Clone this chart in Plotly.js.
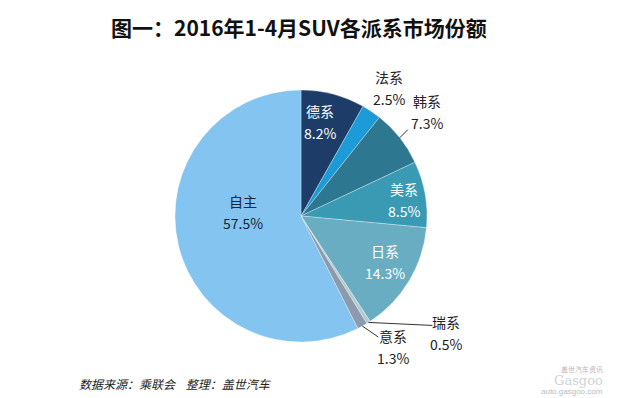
<!DOCTYPE html>
<html>
<head>
<meta charset="utf-8">
<script src="https://cdn.plot.ly/plotly-3.0.1.min.js"></script>
<style>html,body{margin:0;padding:0;background:#fff}#chart{width:620px;height:398px}</style>
</head>
<body>
<div id="chart"></div>
<script>
// ---- data ----
var categories = ["德系", "法系", "韩系", "美系", "日系", "瑞系", "意系", "自主"];
var shares = [8.2, 2.5, 7.3, 8.5, 14.3, 0.5, 1.3, 57.5];
var valueLabels = ["8.2%", "2.5%", "7.3%", "8.5%", "14.3%", "0.5%", "1.3%", "57.5%"];
var titleText = "图一：2016年1-4月SUV各派系市场份额";
var sourceText = "数据来源：乘联会&nbsp;&nbsp;&nbsp;&nbsp;整理：盖世汽车";

// ---- style ----
var colors = ["#1d3d68", "#1c9bd8", "#2d7890", "#3a9ab3", "#68adc1", "#b3cbd4", "#8c9aae", "#84c4f0"];
var W = 620, H = 398, CX = 301, CY = 216, R = 126;
var FONT = "Noto Sans CJK SC, Noto Sans, sans-serif";
// label placement: radius (px) along slice mid-angle, then pixel shift; textColor; leader offset
var labelStyle = [
  {r: 95, dx: -5, dy: -2, color: "#ffffff"},
  {r: 126, dx: 18, dy: -24, color: "#222222"},
  {r: 126, dx: 27, dy: -26, color: "#222222", leader: [8, -8]},
  {r: 105, dx: 0, dy: 2, color: "#ffffff"},
  {r: 96, dx: 2, dy: -3, color: "#ffffff"},
  {r: 126, dx: 78, dy: 11, color: "#222222", leader: [64, 3]},
  {r: 126, dx: 31, dy: 21, color: "#222222", leader: [16, 11]},
  {r: 60, dx: 0, dy: -18, color: "#1a2533"}
];
var lineGap = 11;

function px2x(px) { return px / W; }
function py2y(py) { return 1 - py / H; }

var total = shares.reduce(function (a, b) { return a + b; }, 0);
var annotations = [], shapes = [];
var cum = 0;
for (var i = 0; i < shares.length; i++) {
  var mid = (cum + shares[i] / 2) / total * 2 * Math.PI;
  cum += shares[i];
  var s = labelStyle[i];
  var ex = CX + R * Math.sin(mid), ey = CY - R * Math.cos(mid);
  var lx = CX + s.r * Math.sin(mid) + s.dx, ly = CY - s.r * Math.cos(mid) + s.dy;
  annotations.push({x: px2x(lx), y: py2y(ly - lineGap), xref: "paper", yref: "paper", text: categories[i],
    showarrow: false, font: {family: FONT, size: 14, color: s.color}, xanchor: "center", yanchor: "middle"});
  annotations.push({x: px2x(lx), y: py2y(ly + lineGap), xref: "paper", yref: "paper", text: valueLabels[i],
    showarrow: false, font: {family: FONT, size: 14, color: s.color}, xanchor: "center", yanchor: "middle"});
  if (s.leader) {
    shapes.push({type: "line", xref: "paper", yref: "paper",
      x0: px2x(ex), y0: py2y(ey), x1: px2x(ex + s.leader[0]), y1: py2y(ey + s.leader[1]),
      line: {color: "#333333", width: 1}});
  }
}

annotations.push({x: px2x(299), y: py2y(27), xref: "paper", yref: "paper", text: "<b>" + titleText + "</b>",
  showarrow: false, font: {family: FONT, size: 21, color: "#111111"}, xanchor: "center", yanchor: "middle"});
annotations.push({x: px2x(77), y: py2y(383), xref: "paper", yref: "paper", text: sourceText,
  showarrow: false, font: {family: FONT, size: 12, color: "#222222", style: "italic"}, xanchor: "left", yanchor: "middle"});
// watermark logo
annotations.push({x: px2x(582), y: py2y(369), xref: "paper", yref: "paper", text: "盖世汽车资讯",
  showarrow: false, font: {family: FONT, size: 7, color: "#c9b3b3"}, xanchor: "center", yanchor: "middle"});
annotations.push({x: px2x(578), y: py2y(380), xref: "paper", yref: "paper", text: "Gasgoo",
  showarrow: false, font: {family: "DejaVu Serif, serif", size: 13, color: "#cfd3d8"}, xanchor: "center", yanchor: "middle"});
annotations.push({x: px2x(572), y: py2y(391), xref: "paper", yref: "paper", text: "auto.gasgoo.com",
  showarrow: false, font: {family: "Liberation Sans, sans-serif", size: 8, color: "#b8bcc2"}, xanchor: "center", yanchor: "middle"});

var trace = {
  type: "pie",
  labels: categories,
  values: shares,
  sort: false,
  direction: "clockwise",
  rotation: 0,
  textinfo: "none",
  hoverinfo: "label+percent",
  marker: {colors: colors, line: {color: "rgba(255,255,255,0.6)", width: 0.5}},
  domain: {x: [px2x(CX - R), px2x(CX + R)], y: [py2y(CY + R), py2y(CY - R)]},
  showlegend: false
};

var layout = {
  width: W, height: H,
  margin: {l: 0, r: 0, t: 0, b: 0},
  paper_bgcolor: "#ffffff",
  plot_bgcolor: "#ffffff",
  showlegend: false,
  annotations: annotations,
  shapes: shapes
};

Plotly.newPlot("chart", [trace], layout, {displayModeBar: false, staticPlot: true});
</script>
</body>
</html>
